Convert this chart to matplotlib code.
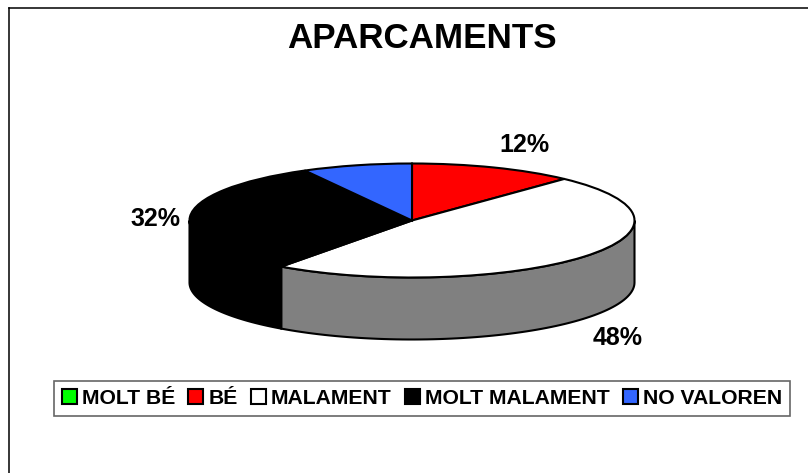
#!/usr/bin/env python3
"""APARCAMENTS 3D-look pie chart."""
import numpy as np
import matplotlib
matplotlib.use("Agg")
import matplotlib.pyplot as plt
from matplotlib.lines import Line2D
from matplotlib.patches import Patch

plt.rcParams['font.family'] = ['Liberation Sans', 'DejaVu Sans']

categories = ['MOLT BÉ', 'BÉ', 'MALAMENT', 'MOLT MALAMENT', 'NO VALOREN']
shares = [0, 12, 48, 32, 8]
colors = ['#00ff00', '#ff0000', '#ffffff', '#000000', '#3366ff']
side_colors = ['#008000', '#800000', '#808080', '#000000', '#1a3380']
title = 'APARCAMENTS'
pct_labels = {'BÉ': '12%', 'MALAMENT': '48%', 'MOLT MALAMENT': '32%'}

W, H = 808, 473
fig = plt.figure(figsize=(W / 100, H / 100), dpi=100, facecolor='white')

# chart frame, runs off the right and bottom of the image
fig.add_artist(Line2D([9 / W, 9 / W], [0, 1 - 8.5 / H], color='black', lw=1.1))
fig.add_artist(Line2D([9 / W, 1], [1 - 8.5 / H, 1 - 8.5 / H], color='black', lw=1.1))

# pie geometry in pixels
left, right = 189.5, 634.5
top, mid, depth_px = 163.5, 220.5, 62
ry = mid - top
depth = depth_px / ry
ax = fig.add_axes([left / W, 1 - (mid + ry + depth_px) / H, (right - left) / W, (2 * ry + depth_px) / H])

# side walls first, only the front half of the ellipse shows
start = 90.0
total = sum(shares)
for share, side in zip(shares, side_colors):
    end = start - share / total * 360
    lo, hi = end % 360, (end % 360) + share / total * 360
    for shift in (0, -360):
        a, b = max(lo + shift, -180), min(hi + shift, 0)
        if b > a:
            t = np.radians(np.linspace(a, b, 80))
            xs = np.concatenate([np.cos(t), np.cos(t[::-1])])
            ys = np.concatenate([np.sin(t), np.sin(t[::-1]) - depth])
            ax.fill(xs, ys, facecolor=side, edgecolor='black', lw=1.5, clip_on=False, zorder=1)
    start = end

wedges, _ = ax.pie(shares, colors=colors, startangle=90, counterclock=False,
                   wedgeprops={'edgecolor': 'black', 'linewidth': 1.5, 'clip_on': False})
for w in wedges:
    w.set_zorder(2)
ax.set_aspect('auto')
ax.set_xlim(-1, 1)
ax.set_ylim(-1 - depth, 1)
ax.axis('off')

fig.text(421.5 / W, 1 - 38 / H, title, fontsize=25.2, fontweight='bold', ha='center', va='center')

# percentage labels
fig.text(524 / W, 1 - 145 / H, pct_labels['BÉ'], fontsize=18, fontweight='bold', ha='center', va='center')
fig.text(155 / W, 1 - 219 / H, pct_labels['MOLT MALAMENT'], fontsize=18, fontweight='bold', ha='center', va='center')
fig.text(618 / W, 1 - 338 / H, pct_labels['MALAMENT'], fontsize=18, fontweight='bold', ha='center', va='center')

handles = [Patch(facecolor=c, edgecolor='black', lw=1.5, label=n) for c, n in zip(colors, categories)]
leg = fig.legend(handles=handles, loc='center', bbox_to_anchor=(422 / W, 1 - 398.5 / H), ncol=5,
                 prop={'size': 15.25, 'weight': 'bold'}, fancybox=False, edgecolor='#666666', framealpha=1,
                 handlelength=0.7, handleheight=0.7, handletextpad=0.25, columnspacing=0.62,
                 borderpad=0.36, borderaxespad=0)
leg.get_frame().set_linewidth(1.2)

fig.savefig('out.png', dpi=100)
